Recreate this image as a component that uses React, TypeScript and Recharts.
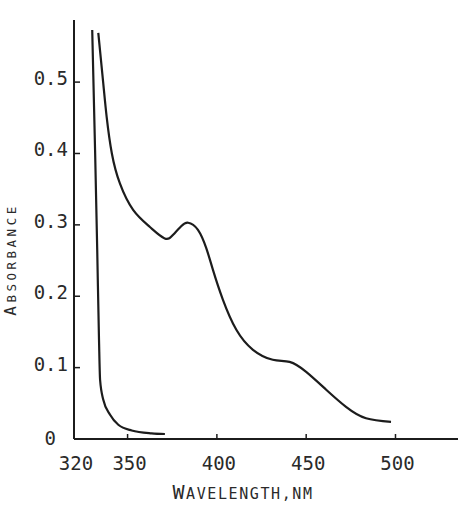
import React from 'react';
import { LineChart, Line, XAxis, YAxis } from 'recharts';

// sharp curve on the left (solvent / blank)
const blankNm = [330.2, 331.8, 333.0, 334.0, 334.6, 336.4, 340.2, 344.8, 352.3, 363.5, 370.9];
const blankAbs = [0.573, 0.405, 0.265, 0.139, 0.083, 0.055, 0.034, 0.02, 0.012, 0.008, 0.007];

// sample spectrum
const sampleNm = [
    333.6, 336.4, 338.3, 341.2, 345.7, 353.1, 362.5, 370.8, 375.5, 380, 383.9, 389.4, 394.1,
    397.8, 403.4, 410.9, 420.2, 431.3, 440.7, 450, 461.2, 472.3, 483.5, 497.5
];
const sampleAbs = [
    0.569, 0.498, 0.451, 0.4, 0.358, 0.321, 0.297, 0.281, 0.286, 0.298, 0.303, 0.293, 0.267,
    0.237, 0.195, 0.153, 0.125, 0.111, 0.108, 0.094, 0.069, 0.045, 0.029, 0.024
];

const xTicks = [320, 350, 400, 450, 500];
const yTicks = [0, 0.1, 0.2, 0.3, 0.4, 0.5];

const blankData = blankNm.map((nm, i) => ({ nm, abs: blankAbs[i] }));
const sampleData = sampleNm.map((nm, i) => ({ nm, abs: sampleAbs[i] }));

const INK = '#1c1c1c';
const FONT = '"DejaVu Sans Mono", monospace';

const YTick = (props: any) => {
    const { x, y, payload } = props;
    const v = payload.value;
    if (v === 0) {
        return (
            <text x={x - 18} y={y + 6} textAnchor="end" fontFamily={FONT} fontSize={19} fill="#2a2a2a">
                0
            </text>
        );
    }
    return (
        <g>
            <line x1={x} x2={x + 6} y1={y} y2={y} stroke={INK} strokeWidth={1.5} />
            <text x={x - 6} y={y + 3} textAnchor="end" fontFamily={FONT} fontSize={19} fill="#2a2a2a">
                {v.toFixed(1)}
            </text>
        </g>
    );
};

const XTick = (props: any) => {
    const { x, y, payload } = props;
    const v = payload.value;
    return (
        <g>
            {v !== 320 && <line x1={x} x2={x} y1={y} y2={y - 5} stroke={INK} strokeWidth={1.5} />}
            <text x={x + 2} y={y + 31} textAnchor="middle" fontFamily={FONT} fontSize={19} fill="#2a2a2a">
                {v}
            </text>
        </g>
    );
};

const XLabel = (props: any) => {
    const { viewBox } = props;
    return (
        <text x={viewBox.x + 169} y={viewBox.y + 60} textAnchor="middle" fontFamily={FONT} fill="#2a2a2a" letterSpacing={1.6}>
            <tspan fontSize={20}>W</tspan>
            <tspan fontSize={15}>AVELENGTH,NM</tspan>
        </text>
    );
};

const YLabel = (props: any) => {
    const { viewBox } = props;
    const cx = viewBox.x + 16;
    const cy = viewBox.y + viewBox.height / 2 + 30;
    return (
        <text
            x={cx}
            y={cy}
            transform={`rotate(-90, ${cx}, ${cy})`}
            textAnchor="middle"
            fontFamily={FONT}
            fill="#2a2a2a"
            letterSpacing={3.5}
        >
            <tspan fontSize={16}>A</tspan>
            <tspan fontSize={12.5}>BSORBANCE</tspan>
        </text>
    );
};

export default function App() {
    return (
        <div style={{ position: 'absolute', left: 0, top: 0, background: '#fff' }}>
            <LineChart width={458} height={509} margin={{ top: 20, right: 0, left: 0, bottom: 0 }}>
                <XAxis
                    type="number"
                    dataKey="nm"
                    domain={[320, 535]}
                    ticks={xTicks}
                    interval={0}
                    allowDataOverflow
                    height={70}
                    tickSize={0}
                    tickMargin={0}
                    tickLine={false}
                    axisLine={{ stroke: INK, strokeWidth: 2 }}
                    tick={<XTick />}
                    label={<XLabel />}
                />
                <YAxis
                    type="number"
                    dataKey="abs"
                    domain={[0, 0.587]}
                    ticks={yTicks}
                    interval={0}
                    allowDataOverflow
                    width={74}
                    tickSize={0}
                    tickMargin={0}
                    tickLine={false}
                    axisLine={{ stroke: INK, strokeWidth: 2 }}
                    tick={<YTick />}
                    label={<YLabel />}
                />
                <Line
                    data={blankData}
                    dataKey="abs"
                    type="monotone"
                    stroke={INK}
                    strokeWidth={2.2}
                    dot={false}
                    isAnimationActive={false}
                />
                <Line
                    data={sampleData}
                    dataKey="abs"
                    type="natural"
                    stroke={INK}
                    strokeWidth={2.2}
                    dot={false}
                    isAnimationActive={false}
                />
            </LineChart>
        </div>
    );
}
